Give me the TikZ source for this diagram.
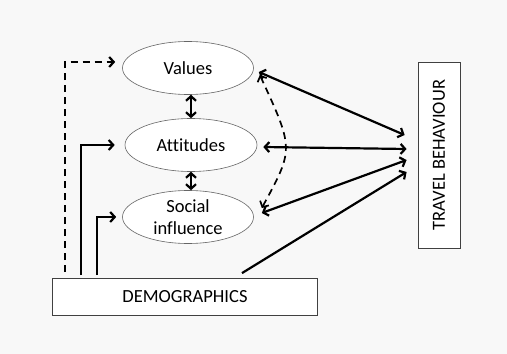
\documentclass[tikz,border=0pt]{standalone}
\usepackage{fontspec}
\setmainfont{Carlito}[Ligatures=NoCommon]
\usetikzlibrary{arrows.meta}
\usetikzlibrary{shapes.geometric}
\usetikzlibrary{calc}
\definecolor{bgcol}{RGB}{248,248,248}
\tikzset{
% Two node styles: ellipse and box
factor node/.style={ellipse,draw=black!60,fill=white,line width=0.6,inner sep=0,minimum width=131,minimum height=53,align=center},
box node/.style={rectangle,draw=black!75,fill=white,line width=0.8,inner sep=0},
% Arrows: solid and dashed
link/.style={line width=2.2,-{Straight Barb[length=4.5pt,width=10pt]}},
bilink/.style={line width=2.2,{Straight Barb[length=4.5pt,width=10pt]}-{Straight Barb[length=4.5pt,width=10pt]}},
dash link/.style={dashed,dash pattern=on 7pt off 5pt}
}

\begin{document}
\begin{tikzpicture}[x=1pt,y=1pt,font=\fontsize{18.5}{22}\selectfont]
		% Background
		\fill[bgcol] (0,0) rectangle (507,354);
		\useasboundingbox (0,0) rectangle (507,354);
		% The factors
		\node(values)[factor node] at (188,286) {Values};
		\node(attitudes)[factor node,minimum width=132] at (191,209) {Attitudes};
		\node(social)[factor node] at (188,137) {Social\\influence};
		% The boxes
		\node(demo)[box node,minimum width=265,minimum height=37] at (185,57) {DEMOGRAPHICS};
		\node(travel)[box node,rotate=90,minimum width=186,minimum height=42] at (439,199) {TRAVEL BEHAVIOUR};
		% Demographics to factors
		\draw[link,dash link]($(demo.north west)+(12.5,6)$) |- ([shift={(-7,6)}]values.west);
		\draw[link]($(demo.north west)+(28.5,3)$) |- ([xshift=-10]attitudes.west);
		\draw[link]($(demo.north west)+(44.5,3)$) |- ([xshift=-6]social.west);
		% Between factors
		\draw[bilink](attitudes.north |- values.south) -- (attitudes.north);
		\draw[bilink](attitudes.south) -- (attitudes.south |- social.north);
		\draw[bilink,dash link,line width=1.7]([shift={(6,-7)}]values.east) .. controls (294,205) .. ([shift={(8,9)}]social.east);
		% Factors to travel behaviour
		\draw[bilink]([shift={(5,-4)}]values.east) -- ([shift={(-13,20)}]travel.north);
		\draw[bilink]([shift={(6,-2)}]attitudes.east) -- ([shift={(-11,6)}]travel.north);
		\draw[bilink]([shift={(8,4)}]social.east) -- ([shift={(-11,-5)}]travel.north);
		\draw[link]($(demo.north)+(57,5)$) -- ([shift={(-11,-17)}]travel.north);
	\end{tikzpicture}
\end{document}
